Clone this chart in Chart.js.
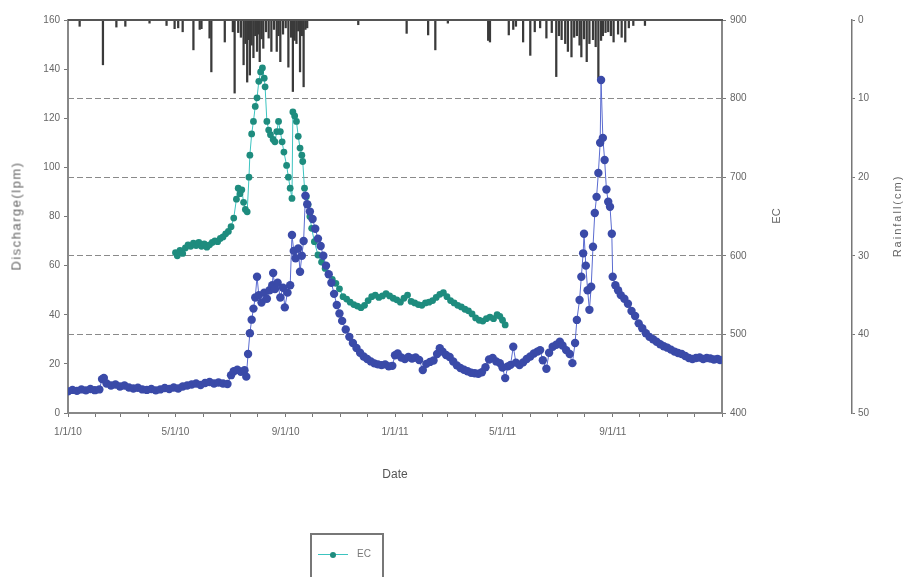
<!DOCTYPE html>
<html>
<head>
<meta charset="utf-8">
<script src="https://cdn.jsdelivr.net/npm/chart.js@4.4.1/dist/chart.umd.min.js"></script>
<style>
    html, body { margin: 0; padding: 0; background: #fff; }
    #wrap { position: relative; width: 908px; height: 577px; overflow: hidden; }
    #chart { position: absolute; left: 0; top: 0; }
    .ytitle {
        position: absolute;
        font-family: "Liberation Sans", Arial, sans-serif;
        color: #666;
        white-space: nowrap;
        transform: translate(-50%, -50%) rotate(-90deg);
    }
    #legend {
        position: absolute; left: 310px; top: 533px; width: 74px; height: 60px;
        border: 2px solid #777; box-sizing: border-box;
        font-family: "Liberation Sans", Arial, sans-serif; font-size: 10px; color: #777;
    }
    #legend .line { position: absolute; left: 6px; top: 19px; width: 30px; height: 1px; background: #3cc4c0; }
    #legend .dot { position: absolute; left: 18px; top: 17px; width: 6px; height: 6px; border-radius: 50%; background: #1e8c7e; }
    #legend .txt { position: absolute; left: 45px; top: 13px; }
</style>
</head>
<body>
<div id="wrap">
    <canvas id="chart" width="908" height="577"></canvas>
    <div class="ytitle" style="left:16px; top:216px; font-size:13px; letter-spacing:1.5px;">Discharge(lpm)</div>
    <div class="ytitle" style="left:776px; top:216px; font-size:11px;">EC</div>
    <div class="ytitle" style="left:897px; top:216px; font-size:11px; letter-spacing:2px;">Rainfall(cm)</div>
    <div id="legend"><div class="line"></div><div class="dot"></div><span class="txt">EC</span></div>
</div>
<script>
// Débit (lpm), échelle de gauche
const dischargeDates = [
    '2010-01-01','2010-01-06','2010-01-11','2010-01-16','2010-01-21','2010-01-26','2010-01-31','2010-02-05',
    '2010-02-08','2010-02-10','2010-02-13','2010-02-18','2010-02-23','2010-02-28','2010-03-05','2010-03-10',
    '2010-03-15','2010-03-20','2010-03-25','2010-03-30','2010-04-04','2010-04-09','2010-04-14','2010-04-19',
    '2010-04-24','2010-04-29','2010-05-04','2010-05-09','2010-05-14','2010-05-19','2010-05-24','2010-05-29',
    '2010-06-03','2010-06-08','2010-06-13','2010-06-18','2010-06-23','2010-06-28','2010-07-02','2010-07-05',
    '2010-07-09','2010-07-13','2010-07-17','2010-07-19','2010-07-21','2010-07-23','2010-07-25','2010-07-27',
    '2010-07-29','2010-07-31','2010-08-02','2010-08-05','2010-08-08','2010-08-11','2010-08-14','2010-08-17',
    '2010-08-18','2010-08-20','2010-08-23','2010-08-26','2010-08-29','2010-08-31','2010-09-03','2010-09-06',
    '2010-09-08','2010-09-10','2010-09-12','2010-09-15','2010-09-17','2010-09-19','2010-09-21','2010-09-23',
    '2010-09-25','2010-09-28','2010-10-01','2010-10-04','2010-10-07','2010-10-10','2010-10-13','2010-10-16',
    '2010-10-19','2010-10-22','2010-10-25','2010-10-28','2010-10-31','2010-11-03','2010-11-07','2010-11-11',
    '2010-11-15','2010-11-19','2010-11-23','2010-11-27','2010-12-01','2010-12-05','2010-12-09','2010-12-13',
    '2010-12-17','2010-12-21','2010-12-25','2010-12-29','2011-01-01','2011-01-04','2011-01-08','2011-01-12',
    '2011-01-16','2011-01-20','2011-01-24','2011-01-28','2011-02-01','2011-02-05','2011-02-09','2011-02-13',
    '2011-02-17','2011-02-20','2011-02-23','2011-02-27','2011-03-03','2011-03-07','2011-03-11','2011-03-15',
    '2011-03-19','2011-03-23','2011-03-27','2011-03-31','2011-04-04','2011-04-08','2011-04-12','2011-04-16',
    '2011-04-20','2011-04-24','2011-04-28','2011-05-01','2011-05-04','2011-05-07','2011-05-10','2011-05-13',
    '2011-05-16','2011-05-20','2011-05-24','2011-05-28','2011-06-01','2011-06-05','2011-06-09','2011-06-12',
    '2011-06-15','2011-06-19','2011-06-22','2011-06-26','2011-06-30','2011-07-04','2011-07-07','2011-07-11',
    '2011-07-15','2011-07-18','2011-07-21','2011-07-23','2011-07-26','2011-07-28','2011-07-30','2011-07-31',
    '2011-08-02','2011-08-04','2011-08-06','2011-08-08','2011-08-10','2011-08-12','2011-08-14','2011-08-16',
    '2011-08-18','2011-08-19','2011-08-21','2011-08-23','2011-08-25','2011-08-27','2011-08-29','2011-08-31',
    '2011-09-01','2011-09-04','2011-09-07','2011-09-10','2011-09-14','2011-09-18','2011-09-22','2011-09-26',
    '2011-09-30','2011-10-04','2011-10-08','2011-10-12','2011-10-16','2011-10-20','2011-10-24','2011-10-28',
    '2011-11-01','2011-11-05','2011-11-09','2011-11-13','2011-11-17','2011-11-21','2011-11-25','2011-11-29',
    '2011-12-03','2011-12-07','2011-12-11','2011-12-15','2011-12-19','2011-12-23','2011-12-27','2011-12-30'
];
const discharge = [
    8.8, 9.4, 9.0, 9.6, 9.2, 9.8, 9.3, 9.6,
    13.8, 14.3, 12.0, 11.2, 11.6, 10.8, 11.2, 10.4,
    10.0, 10.3, 9.6, 9.4, 9.8, 9.2, 9.6, 10.2,
    9.8, 10.4, 10.0, 10.8, 11.2, 11.6, 12.0, 11.4,
    12.2, 12.6, 12.0, 12.4, 12.0, 11.8, 15.4, 17.0,
    17.6, 16.8, 17.4, 14.8, 24.0, 32.5, 38.0, 42.5,
    47.0, 55.5, 48.0, 45.0, 49.0, 46.5, 50.0, 52.0,
    57.0, 50.5, 53.0, 47.0, 51.0, 43.0, 49.0, 52.0,
    72.5, 66.0, 63.0, 67.0, 57.5, 64.0, 70.0, 88.5,
    85.0, 82.0, 79.0, 75.0, 71.0, 68.0, 64.0, 60.0,
    56.5, 53.0, 48.5, 44.0, 40.5, 37.5, 34.0, 31.0,
    28.5, 26.5, 24.5, 23.0, 22.0, 21.0, 20.2, 19.8,
    19.5, 19.8, 19.0, 19.2, 23.5, 24.2, 22.6, 22.0,
    22.8, 22.2, 22.6, 21.6, 17.5, 20.0, 20.8, 21.4,
    24.0, 26.4, 25.0, 23.6, 22.8, 21.0, 19.4, 18.3,
    17.6, 17.0, 16.4, 16.2, 16.0, 16.6, 18.6, 21.8,
    22.4, 21.0, 20.3, 18.5, 14.2, 19.0, 19.6, 27.0,
    20.5, 19.5, 20.6, 22.0, 23.0, 24.2, 25.0, 25.6,
    21.5, 18.0, 24.5, 27.0, 27.8, 29.0, 27.5, 25.6,
    24.0, 20.3, 28.5, 37.9, 46.0, 55.5, 65.0, 73.0,
    60.0, 50.0, 42.0, 51.4, 67.7, 81.4, 88.0, 97.7,
    110.0, 135.6, 112.0, 103.0, 91.0, 86.0, 84.0, 73.0,
    55.5, 52.0, 50.0, 48.0, 46.5, 44.5, 41.5, 39.5,
    36.5, 34.5, 32.5, 31.0, 30.0, 29.0, 28.0, 27.2,
    26.6, 25.8, 25.0, 24.4, 24.0, 23.2, 22.4, 22.0,
    22.4, 22.6, 22.0, 22.4, 22.2, 21.8, 22.0, 21.6
];

// Conductivité électrique (EC), échelle de droite
const ecDates = [
    '2010-05-01','2010-05-03','2010-05-06','2010-05-09','2010-05-12','2010-05-15','2010-05-18','2010-05-21',
    '2010-05-24','2010-05-27','2010-05-30','2010-06-02','2010-06-05','2010-06-08','2010-06-11','2010-06-14',
    '2010-06-17','2010-06-20','2010-06-23','2010-06-26','2010-06-29','2010-07-02','2010-07-05','2010-07-08',
    '2010-07-10','2010-07-12','2010-07-14','2010-07-16','2010-07-18','2010-07-20','2010-07-22','2010-07-23',
    '2010-07-25','2010-07-27','2010-07-29','2010-07-31','2010-08-02','2010-08-04','2010-08-06','2010-08-08',
    '2010-08-09','2010-08-11','2010-08-13','2010-08-15','2010-08-18','2010-08-20','2010-08-22','2010-08-24',
    '2010-08-26','2010-08-28','2010-08-30','2010-09-02','2010-09-04','2010-09-06','2010-09-08','2010-09-09',
    '2010-09-11','2010-09-13','2010-09-15','2010-09-17','2010-09-19','2010-09-20','2010-09-22','2010-09-24',
    '2010-09-26','2010-09-28','2010-09-30','2010-10-03','2010-10-07','2010-10-11','2010-10-15','2010-10-19',
    '2010-10-23','2010-10-27','2010-10-31','2010-11-04','2010-11-08','2010-11-12','2010-11-16','2010-11-20',
    '2010-11-24','2010-11-28','2010-12-02','2010-12-06','2010-12-10','2010-12-14','2010-12-18','2010-12-22',
    '2010-12-26','2010-12-30','2011-01-03','2011-01-07','2011-01-11','2011-01-15','2011-01-19','2011-01-23',
    '2011-01-27','2011-01-31','2011-02-04','2011-02-08','2011-02-12','2011-02-16','2011-02-20','2011-02-24',
    '2011-02-28','2011-03-04','2011-03-08','2011-03-12','2011-03-16','2011-03-20','2011-03-24','2011-03-28',
    '2011-04-01','2011-04-05','2011-04-09','2011-04-13','2011-04-17','2011-04-21','2011-04-25','2011-04-28',
    '2011-05-01','2011-05-04'
];
const ec = [
    604, 600, 607, 603, 610, 614, 612, 616,
    613, 617, 612, 615, 611, 614, 617, 619,
    618, 622, 624, 628, 631, 637, 648, 672,
    686, 679, 684, 668, 659, 656, 700, 728,
    755, 771, 790, 801, 822, 834, 839, 826,
    815, 771, 760, 754, 748, 745, 758, 771,
    758, 745, 732, 715, 700, 686, 673, 783,
    778, 771, 752, 737, 728, 720, 686, 675,
    665, 650, 635, 618, 601, 592, 584, 576,
    570, 565, 558, 548, 545, 541, 538, 536,
    534, 537, 543, 548, 550, 547, 549, 552,
    549, 546, 544, 541, 546, 550, 542, 540,
    538, 537, 540, 541, 543, 547, 551, 553,
    548, 543, 540, 537, 535, 532, 530, 526,
    521, 518, 517, 520, 522, 520, 525, 523,
    518, 512
];

// Pluie (cm), échelle inversée à l'extrême droite
const rainDates = [
    '2010-01-14','2010-02-09','2010-02-24','2010-03-06','2010-04-02','2010-04-21','2010-04-30','2010-05-04',
    '2010-05-09','2010-05-21','2010-05-28','2010-05-30','2010-06-08','2010-06-10','2010-06-25','2010-07-04',
    '2010-07-06','2010-07-10','2010-07-13','2010-07-16','2010-07-18','2010-07-20','2010-07-21','2010-07-23',
    '2010-07-25','2010-07-27','2010-07-29','2010-07-31','2010-08-02','2010-08-03','2010-08-05','2010-08-07',
    '2010-08-10','2010-08-13','2010-08-16','2010-08-19','2010-08-22','2010-08-24','2010-08-26','2010-08-29',
    '2010-09-01','2010-09-04','2010-09-07','2010-09-09','2010-09-11','2010-09-13','2010-09-15','2010-09-17',
    '2010-09-19','2010-09-21','2010-09-23','2010-09-25','2010-11-21','2011-01-14','2011-02-07','2011-02-15',
    '2011-03-01','2011-04-15','2011-04-17','2011-05-08','2011-05-13','2011-05-16','2011-05-24','2011-06-01',
    '2011-06-06','2011-06-12','2011-06-19','2011-06-25','2011-06-30','2011-07-03','2011-07-06','2011-07-10',
    '2011-07-13','2011-07-17','2011-07-20','2011-07-23','2011-07-26','2011-07-28','2011-07-31','2011-08-03',
    '2011-08-06','2011-08-10','2011-08-13','2011-08-16','2011-08-19','2011-08-21','2011-08-24','2011-08-27',
    '2011-08-30','2011-09-02','2011-09-07','2011-09-11','2011-09-15','2011-09-19','2011-09-24','2011-10-07'
];
const rain = [
    0.8, 5.7, 0.9, 0.8, 0.4, 0.7, 1.1, 1.0,
    1.5, 3.8, 1.2, 1.1, 2.3, 6.6, 2.8, 1.5,
    9.3, 1.6, 2.2, 5.7, 3.0, 7.9, 2.5, 7.0,
    3.2, 4.8, 2.0, 4.0, 1.8, 5.3, 2.4, 3.6,
    1.5, 2.3, 4.0, 1.2, 4.0, 2.0, 5.3, 1.8,
    1.0, 6.0, 2.2, 9.1, 2.6, 3.0, 1.4, 6.6,
    2.0, 8.5, 1.2, 1.0, 0.6, 1.7, 1.9, 3.8,
    0.4, 2.6, 2.8, 1.9, 1.2, 0.8, 2.8, 4.5,
    1.5, 1.0, 2.3, 1.6, 7.2, 2.0, 2.5, 3.0,
    4.0, 4.7, 2.2, 2.0, 3.2, 4.7, 2.4, 5.3,
    3.0, 2.5, 3.4, 7.4, 2.6, 2.0, 1.6, 1.5,
    2.0, 2.8, 1.8, 2.2, 2.8, 1.0, 0.7, 0.7
];

// Axe des dates
const axisStart = '2010-01-01';
const axisEnd = '2012-01-01';
const tickLabelDates = ['2010-01-01', '2010-05-01', '2010-09-01', '2011-01-01', '2011-05-01', '2011-09-01'];
const tickLabels = ['1/1/10', '5/1/10', '9/1/10', '1/1/11', '5/1/11', '9/1/11'];

const T0 = Date.UTC(2010, 0, 1);
function toDay(s) {
    const [y, m, d] = s.split('-').map(Number);
    return Math.round((Date.UTC(y, m - 1, d) - T0) / 86400000);
}
function pairs(dates, values) {
    return dates.map((d, i) => ({ x: toDay(d), y: values[i] }));
}

// ticks mensuels
const monthTicks = [];
for (let i = 0; i <= 24; i++) {
    monthTicks.push(Math.round((Date.UTC(2010, i, 1) - T0) / 86400000));
}
const labelByDay = {};
tickLabelDates.forEach((d, i) => { labelByDay[toDay(d)] = tickLabels[i]; });

const tickFont = { family: '"Liberation Sans Narrow", "Liberation Sans", Arial, sans-serif', size: 10 };

// bordure du haut du cadre
const frameTop = {
    id: 'frameTop',
    afterDraw(chart) {
        const { ctx, chartArea: a } = chart;
        ctx.save();
        ctx.strokeStyle = '#555';
        ctx.lineWidth = 2;
        ctx.beginPath();
        ctx.moveTo(a.left, a.top);
        ctx.lineTo(a.right + 1, a.top);
        ctx.stroke();
        ctx.restore();
    }
};

new Chart(document.getElementById('chart').getContext('2d'), {
    type: 'line',
    data: {
        datasets: [
            {
                label: 'Discharge',
                data: pairs(dischargeDates, discharge),
                xAxisID: 'x',
                yAxisID: 'y',
                borderColor: '#5a6bd0',
                borderWidth: 1,
                backgroundColor: '#3a4aa8',
                pointBackgroundColor: '#3a4aa8',
                pointBorderWidth: 0,
                pointRadius: 4.2,
                tension: 0,
                order: 0
            },
            {
                label: 'EC',
                data: pairs(ecDates, ec),
                xAxisID: 'x',
                yAxisID: 'yEC',
                borderColor: '#3cc4c0',
                borderWidth: 1,
                backgroundColor: '#1e8c7e',
                pointBackgroundColor: '#1e8c7e',
                pointBorderWidth: 0,
                pointRadius: 3.4,
                tension: 0,
                order: 1
            },
            {
                type: 'bar',
                label: 'Rainfall',
                data: pairs(rainDates, rain),
                xAxisID: 'x',
                yAxisID: 'yRain',
                backgroundColor: '#3a3a3a',
                barThickness: 1.6,
                order: 2
            }
        ]
    },
    options: {
        responsive: false,
        animation: false,
        layout: { padding: { top: 20, left: 0, right: 0, bottom: 0 } },
        plugins: {
            legend: { display: false },
            tooltip: { enabled: false }
        },
        scales: {
            x: {
                type: 'linear',
                position: 'bottom',
                min: toDay(axisStart),
                max: toDay(axisEnd),
                offset: false,
                afterBuildTicks: scale => { scale.ticks = monthTicks.map(v => ({ value: v })); },
                afterFit: scale => { scale.height = 164; },
                ticks: {
                    autoSkip: false,
                    maxRotation: 0,
                    padding: 9,
                    color: '#666',
                    font: tickFont,
                    callback: v => labelByDay[v] || ''
                },
                grid: { drawOnChartArea: false, tickLength: 4, color: '#777', offset: false },
                border: { color: '#888', width: 2 },
                title: {
                    display: true,
                    text: 'Date',
                    color: '#555',
                    font: { family: '"Liberation Sans", Arial, sans-serif', size: 12 },
                    padding: { top: 0, bottom: 95 }
                }
            },
            y: {
                position: 'left',
                min: 0,
                max: 160,
                ticks: { stepSize: 20, color: '#666', font: tickFont, padding: 4 },
                afterFit: scale => { scale.width = 68; },
                grid: { drawOnChartArea: false, tickLength: 4, color: '#777' },
                border: { color: '#888', width: 2 }
            },
            yEC: {
                position: 'right',
                weight: 0,
                min: 400,
                max: 900,
                ticks: { stepSize: 100, color: '#666', font: tickFont, padding: 4 },
                afterFit: scale => { scale.width = 130; },
                grid: {
                    drawOnChartArea: true,
                    tickLength: 4,
                    color: ctx => (ctx.tick && (ctx.tick.value === 400 || ctx.tick.value === 900)) ? 'rgba(0,0,0,0)' : '#8a8a8a',
                    tickColor: '#777',
                    tickBorderDash: [],
                    lineWidth: 1
                },
                border: { color: '#888', width: 2, dash: [6, 3] }
            },
            yRain: {
                position: 'right',
                weight: 1,
                min: 0,
                max: 50,
                reverse: true,
                ticks: { stepSize: 10, color: '#666', font: tickFont, padding: 3 },
                afterFit: scale => { scale.width = 56; },
                grid: { drawOnChartArea: false, tickLength: 3, color: '#777' },
                border: { color: '#777', width: 1.5 }
            }
        }
    },
    plugins: [frameTop]
});
</script>
</body>
</html>
